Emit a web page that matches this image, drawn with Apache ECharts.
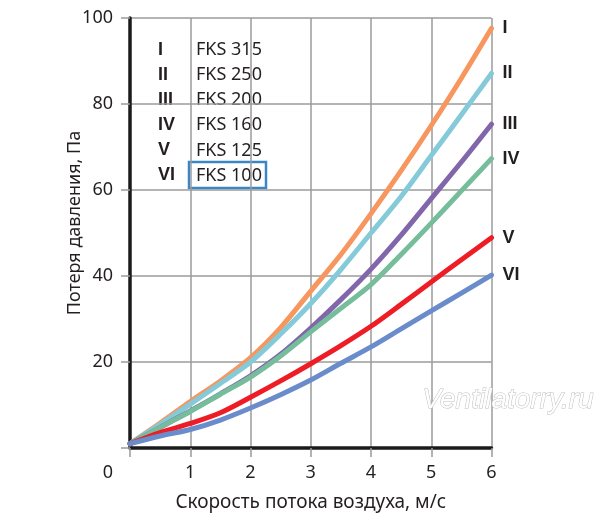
<!DOCTYPE html>
<html>
<head>
<meta charset="utf-8">
<script src="https://cdn.jsdelivr.net/npm/echarts@6/dist/echarts.min.js"></script>
<style>html,body{margin:0;padding:0;background:#fff}#c{width:600px;height:524px}</style>
</head>
<body>
<div id="c"></div>
<script>
const xValues = [0, 0.5, 1, 1.5, 2, 2.5, 3, 3.5, 4, 4.5, 5, 5.5, 6];
const seriesNames = ['I', 'II', 'III', 'IV', 'V', 'VI'];
const modelNames = ['FKS 315', 'FKS 250', 'FKS 200', 'FKS 160', 'FKS 125', 'FKS 100'];
const fks315 = [1, 5.8, 10.8, 15.6, 21, 28, 36.5, 45, 54.5, 64.5, 75, 86, 97.6];
const fks250 = [1, 5.5, 10.2, 15, 20, 26.5, 33.6, 41.5, 50, 58.5, 68, 77.5, 87.1];
const fks200 = [1, 4.8, 8.6, 12.6, 16.8, 21.8, 27.9, 34.5, 41.6, 49.5, 58, 66.5, 75.3];
const fks160 = [1, 4.8, 8.5, 12.5, 16.5, 21.4, 27, 32.5, 38, 45, 52.3, 59.8, 67.3];
const fks125 = [1, 3.6, 5.7, 8.2, 11.8, 15.6, 19.6, 23.8, 28.3, 33.4, 38.6, 43.8, 48.9];
const fks100 = [1, 2.8, 4.3, 6.5, 9.3, 12.4, 15.8, 19.7, 23.5, 27.7, 31.9, 36, 40.2];
const xAxisTitle = 'Скорость потока воздуха, м/с';
const yAxisTitle = 'Потеря давления, Па';
const watermark = 'Ventilatorry.ru';

const allData = [fks315, fks250, fks200, fks160, fks125, fks100];
const colors = ['#F7965E', '#84CAD9', '#8166AC', '#76BD9B', '#EE1D25', '#6B8CCA'];
const textColor = '#231f20';
const gridColor = '#9b9b9b';
const fontFam = 'Noto Sans';
const boldFam = 'Liberation Sans';

const chart = echarts.init(document.getElementById('c'), null, {renderer: 'canvas'});

const series = allData.map((d, i) => ({
  name: seriesNames[i],
  type: 'line',
  data: d.map((v, j) => [xValues[j], v]),
  smooth: 0.3,
  symbol: 'none',
  lineStyle: {color: colors[i], width: 5, cap: 'round'},
  itemStyle: {color: colors[i]},
  endLabel: {
    show: true,
    formatter: '{a}',
    color: textColor,
    fontWeight: 'bold',
    fontSize: 18,
    fontFamily: boldFam,
    distance: 11
  },
  z: 2 + i
}));

const legendGraphics = [];
const rowY0 = 50, rowStep = 25.1;
seriesNames.forEach((n, i) => {
  legendGraphics.push({
    type: 'text', x: 158, y: rowY0 + rowStep * i,
    style: {text: n, fill: textColor, fontFamily: boldFam, fontWeight: 'bold', fontSize: 18, verticalAlign: 'middle', align: 'left'}
  });
  legendGraphics.push({
    type: 'text', x: 196, y: rowY0 + rowStep * i,
    style: {text: modelNames[i], fill: textColor, fontFamily: fontFam, fontSize: 18, verticalAlign: 'middle', align: 'left'}
  });
});
legendGraphics.push({
  type: 'rect', x: 189, y: 162,
  shape: {width: 77, height: 26},
  style: {fill: 'none', stroke: '#3A86C6', lineWidth: 2.5}
});
legendGraphics.push({
  type: 'text', x: 508, y: 400,
  style: {text: watermark, fill: '#ffffff', stroke: '#bdbdbd', lineWidth: 1,
          fontFamily: 'Liberation Sans', fontStyle: 'italic', fontSize: 28,
          align: 'center', verticalAlign: 'middle'},
  z: 100
});

chart.setOption({
  animation: false,
  backgroundColor: '#ffffff',
  textStyle: {fontFamily: fontFam},
  grid: {left: 130, right: 108.5, top: 18, bottom: 76, containLabel: false},
  xAxis: {
    type: 'value', min: 0, max: 6, interval: 1,
    name: xAxisTitle, nameLocation: 'middle', nameGap: 45, nameMoveOverlap: false,
    nameTextStyle: {color: textColor, fontSize: 19, fontFamily: fontFam},
    axisLine: {show: true, onZero: false, lineStyle: {color: '#1a1a1a', width: 3.5}},
    axisTick: {show: true, length: 9, lineStyle: {color: gridColor, width: 1.5}},
    splitLine: {show: true, lineStyle: {color: gridColor, width: 1.5}},
    axisLabel: {
      color: textColor, fontSize: 18, margin: 16, fontFamily: fontFam,
      formatter: v => v === 0 ? '{z|0}' : String(v),
      rich: {z: {color: textColor, fontSize: 18, fontFamily: fontFam, padding: [0, 44, 0, 0]}}
    }
  },
  yAxis: {
    type: 'value', min: 0, max: 100, interval: 20,
    name: yAxisTitle, nameLocation: 'middle', nameGap: 46, nameMoveOverlap: false,
    nameTextStyle: {color: textColor, fontSize: 18, fontFamily: fontFam, padding: [0, 0, 0, 20]},
    axisLine: {show: true, onZero: false, lineStyle: {color: '#1a1a1a', width: 3.5}},
    axisTick: {show: true, length: 9, lineStyle: {color: gridColor, width: 1.5}},
    splitLine: {show: true, lineStyle: {color: gridColor, width: 1.5}},
    axisLabel: {
      color: textColor, fontSize: 18, margin: 17, fontFamily: fontFam,
      formatter: v => v === 0 ? '' : String(v)
    }
  },
  graphic: legendGraphics,
  series: series
});
</script>
</body>
</html>
